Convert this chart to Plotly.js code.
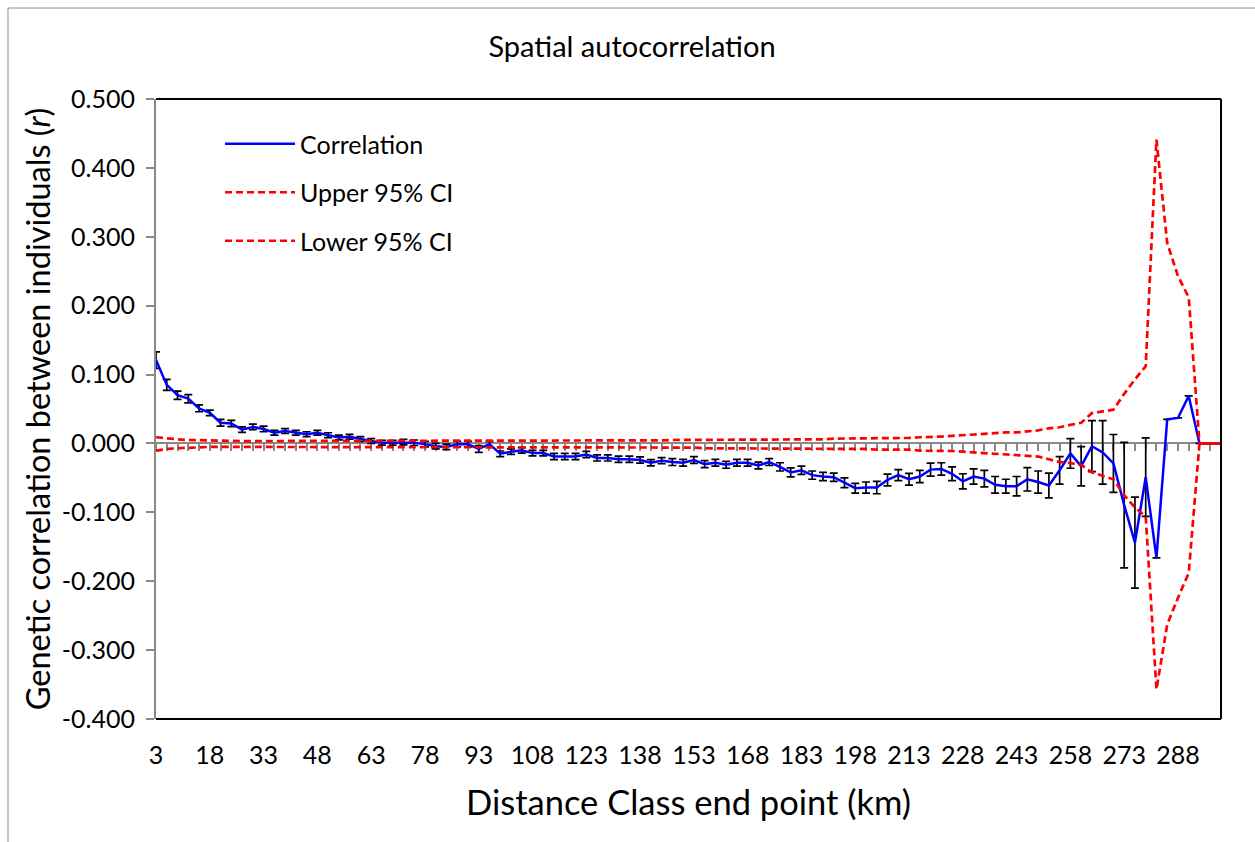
<!DOCTYPE html>
<html><head><meta charset="utf-8">
<script src="https://cdn.plot.ly/plotly-3.0.1.min.js"></script>
<style>html,body{margin:0;padding:0;background:#fff}#chart{width:1255px;height:842px}</style>
</head><body><div id="chart"></div>
<script>
const distanceClasses = [3,6,9,12,15,18,21,24,27,30,33,36,39,42,45,48,51,54,57,60,63,66,69,72,75,78,81,84,87,90,93,96,99,102,105,108,111,114,117,120,123,126,129,132,135,138,141,144,147,150,153,156,159,162,165,168,171,174,177,180,183,186,189,192,195,198,201,204,207,210,213,216,219,222,225,228,231,234,237,240,243,246,249,252,255,258,261,264,267,270,273,276,279,282,285,288,291,294,297,300];

const correlation = [0.121,0.085,0.070,0.065,0.051,0.0445,0.030,0.029,0.020,0.024,
0.021,0.0155,0.018,0.0155,0.0135,0.0155,0.012,0.0087,0.0097,0.0063,
0.0034,0.001,0.001,0.002,0.001,-0.001,-0.004,-0.005,-0.001,-0.001,
-0.008,-0.001,-0.015,-0.012,-0.010,-0.014,-0.014,-0.019,-0.019,-0.019,
-0.016,-0.021,-0.021,-0.023,-0.023,-0.024,-0.028,-0.025,-0.027,-0.028,
-0.024,-0.030,-0.028,-0.031,-0.028,-0.028,-0.032,-0.027,-0.034,-0.042,
-0.039,-0.046,-0.048,-0.049,-0.057,-0.065,-0.064,-0.064,-0.053,-0.046,
-0.052,-0.048,-0.038,-0.037,-0.044,-0.055,-0.048,-0.051,-0.060,-0.062,
-0.062,-0.052,-0.056,-0.061,-0.039,-0.0145,-0.033,-0.004,-0.013,-0.029,
-0.0895,-0.144,-0.049,-0.166,0.035,0.037,0.069,0,0,0];

const corrError = [0.012,0.008,0.006,0.006,0.005,0.004,0.005,0.0045,0.004,0.004,
0.004,0.0035,0.0035,0.0035,0.0035,0.0035,0.0035,0.0035,0.0035,0.0035,
0.0035,0.0035,0.0035,0.004,0.004,0.004,0.004,0.004,0.004,0.004,
0.005,0.004,0.004,0.004,0.004,0.004,0.004,0.0045,0.0045,0.0045,
0.0045,0.0045,0.0045,0.0045,0.0045,0.0045,0.0045,0.0045,0.005,0.005,
0.005,0.005,0.005,0.005,0.005,0.005,0.005,0.005,0.006,0.0065,
0.006,0.006,0.006,0.006,0.007,0.007,0.008,0.009,0.0085,0.008,
0.0085,0.009,0.0095,0.009,0.010,0.011,0.011,0.012,0.012,0.010,
0.014,0.017,0.016,0.018,0.020,0.0215,0.0285,0.037,0.046,0.042,
0.091,0.066,0.057,null,null,null,null,null,null,null];

const upperCI = [0.009,0.007,0.006,0.005,0.0045,0.004,0.0035,0.0035,0.0035,0.0035,
0.0035,0.0035,0.0035,0.0035,0.0035,0.0035,0.0035,0.0035,0.0035,0.0035,
0.0035,0.0038,0.0038,0.0038,0.0038,0.0038,0.0038,0.0038,0.0038,0.0038,
0.0038,0.0038,0.0038,0.0038,0.0038,0.0038,0.0045,0.0045,0.0045,0.0045,
0.0045,0.0045,0.0045,0.0045,0.0045,0.0045,0.0045,0.0045,0.005,0.005,
0.005,0.005,0.005,0.005,0.005,0.005,0.006,0.006,0.006,0.006,
0.006,0.006,0.006,0.007,0.007,0.007,0.007,0.007,0.008,0.008,
0.008,0.009,0.009,0.010,0.011,0.012,0.0135,0.014,0.015,0.016,
0.016,0.017,0.019,0.022,0.0235,0.027,0.030,0.044,0.046,0.049,
0.072,0.093,0.112,0.441,0.291,0.243,0.212,0,0,0];

const lowerCI = [-0.0105,-0.008,-0.007,-0.006,-0.0055,-0.005,-0.005,-0.005,-0.005,-0.005,
-0.005,-0.005,-0.005,-0.005,-0.005,-0.005,-0.005,-0.005,-0.005,-0.005,
-0.005,-0.0055,-0.0055,-0.0055,-0.0055,-0.0055,-0.0055,-0.0055,-0.0055,-0.0055,
-0.0055,-0.0055,-0.0055,-0.0055,-0.0055,-0.0055,-0.0055,-0.0055,-0.0055,-0.0055,
-0.0055,-0.006,-0.006,-0.006,-0.006,-0.006,-0.006,-0.006,-0.006,-0.006,
-0.006,-0.007,-0.007,-0.007,-0.007,-0.007,-0.007,-0.007,-0.007,-0.007,
-0.007,-0.008,-0.008,-0.008,-0.008,-0.008,-0.008,-0.009,-0.009,-0.009,
-0.009,-0.0105,-0.0105,-0.0105,-0.011,-0.012,-0.013,-0.014,-0.015,-0.016,
-0.016,-0.017,-0.019,-0.023,-0.027,-0.0285,-0.031,-0.042,-0.047,-0.052,
-0.075,-0.093,-0.106,-0.357,-0.263,-0.224,-0.188,0,0,0];

const xTickLabels = [3,18,33,48,63,78,93,108,123,138,153,168,183,198,213,228,243,258,273,288];
const yTickValues = [-0.4,-0.3,-0.2,-0.1,0,0.1,0.2,0.3,0.4,0.5];
const yTickLabels = ['-0.400','-0.300','-0.200','-0.100','0.000','0.100','0.200','0.300','0.400','0.500'];

const cats = distanceClasses.map(String);
const FONT = 'Lato, "Open Sans", sans-serif';
const W = 1255, H = 842;
const L = 156, R = 1221, T = 99, B = 719;
const px = v => (v - L) / (R - L);
const py = v => (B - v) / (B - T);

const traces = [
  {x: cats, y: correlation, name: 'Correlation', type: 'scatter', mode: 'lines',
   line: {color: '#0000ff', width: 2.5}, legendgroup: 'a',
   error_y: {type: 'data', array: corrError, visible: true, color: '#000', thickness: 1.7, width: 4}},
  {x: cats, y: upperCI, name: 'Upper 95% CI', type: 'scatter', mode: 'lines',
   line: {color: '#ff0000', width: 2.7, dash: '7px,4px'}, legendgroup: 'b'},
  {x: cats, y: lowerCI, name: 'Lower 95% CI', type: 'scatter', mode: 'lines',
   line: {color: '#ff0000', width: 2.7, dash: '7px,4px'}, legendgroup: 'c'},
  {x: [0], y: [null], xaxis: 'x2', yaxis: 'y', type: 'scatter', mode: 'markers',
   showlegend: false, hoverinfo: 'skip'}
];

const layout = {
  width: W, height: H,
  margin: {l: L, r: W - R, t: T, b: H - B, pad: 0},
  paper_bgcolor: '#fff', plot_bgcolor: '#fff',
  font: {family: FONT, color: '#000'},
  title: {text: 'Spatial autocorrelation', font: {size: 29, family: FONT, color: '#000'},
          x: 632 / W, xanchor: 'center', xref: 'container', y: 1 - 47 / H, yanchor: 'middle', yref: 'container'},
  showlegend: true,
  legend: {x: px(220), xanchor: 'left', y: py(121), yanchor: 'top', traceorder: 'grouped',
           tracegroupgap: 13, itemwidth: 70, font: {size: 25, family: FONT, color: '#000'}, bgcolor: 'rgba(0,0,0,0)'},
  xaxis: {type: 'category', categoryorder: 'array', categoryarray: cats, range: [0, cats.length - 1],
          anchor: 'free', position: (0 - (-0.4)) / 0.9, showline: true, linecolor: '#898989', linewidth: 2,
          ticks: 'outside', ticklen: 7, tickwidth: 2, tickcolor: '#898989', tickmode: 'linear', tick0: 0, dtick: 1,
          showticklabels: false, showgrid: false, zeroline: false, layer: 'below traces', fixedrange: true},
  xaxis2: {overlaying: 'x', anchor: 'y', side: 'bottom', type: 'linear', range: [0, cats.length - 1],
           tickmode: 'array', tickvals: xTickLabels.map(t => cats.indexOf(String(t))),
           ticktext: xTickLabels.map(String), showline: false, ticks: '', showgrid: false, zeroline: false,
           tickfont: {size: 25, family: FONT, color: '#000'}, ticklabelstandoff: 19,
           title: {text: 'Distance Class end point (km)', font: {size: 34.5, family: FONT, color: '#000'}, standoff: 22}},
  yaxis: {range: [-0.4, 0.5], tickmode: 'array', tickvals: yTickValues, ticktext: yTickLabels,
          showline: true, linecolor: '#898989', linewidth: 2, ticks: 'outside', ticklen: 8, tickwidth: 2,
          tickcolor: '#898989', showgrid: false, zeroline: false, tickfont: {size: 25, family: FONT, color: '#000'},
          ticklabelstandoff: 6,
          title: {text: 'Genetic correlation between individuals (<i>r</i>)', font: {size: 32.5, family: FONT, color: '#000'}, standoff: 1}},
  shapes: [
    {type: 'line', xref: 'paper', yref: 'paper', x0: 0, x1: 1, y0: 1, y1: 1, line: {color: '#000', width: 2}},
    {type: 'line', xref: 'paper', yref: 'paper', x0: 1, x1: 1, y0: 0, y1: 1, line: {color: '#000', width: 2}},
    {type: 'line', xref: 'paper', yref: 'paper', x0: 0, x1: 1, y0: 0, y1: 0, line: {color: '#000', width: 2}},
    {type: 'rect', xref: 'paper', yref: 'paper', x0: px(8), x1: px(1262), y0: py(850), y1: py(8), line: {color: '#8c8c8c', width: 1}}
  ]
};

Plotly.newPlot('chart', traces, layout, {displayModeBar: false, staticPlot: true});
</script></body></html>
